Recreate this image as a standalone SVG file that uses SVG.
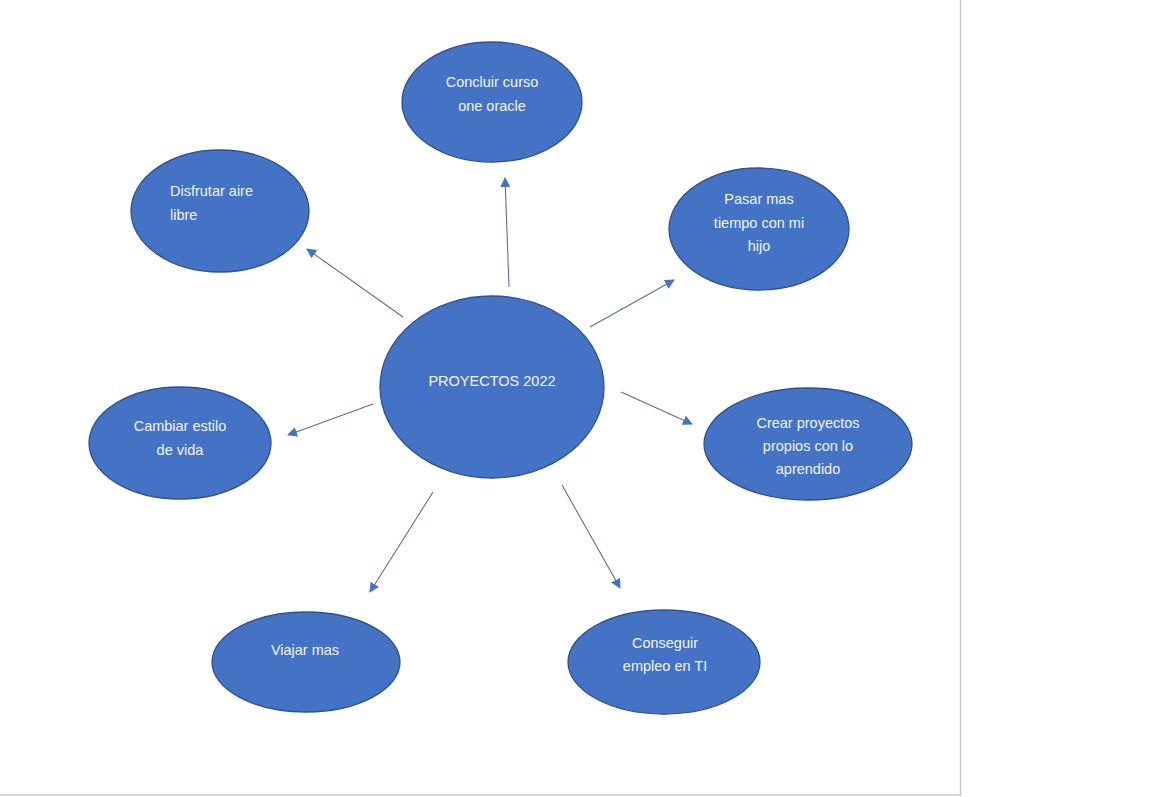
<svg xmlns="http://www.w3.org/2000/svg" width="1152" height="797" viewBox="0 0 1152 797">
<style>
.n{fill:#4472C4;stroke:#2F528F;stroke-width:1.3}
.t{font-family:"Liberation Sans",Arial,sans-serif;font-size:14.5px;fill:#F2F6FC;text-anchor:middle}
.c{stroke:#5B6F96;stroke-width:1.1;fill:none;marker-end:url(#ah)}
</style>
<defs>
<marker id="ah" viewBox="0 0 10 10" refX="9" refY="5" markerWidth="10" markerHeight="10" markerUnits="userSpaceOnUse" orient="auto">
<path d="M0,0 L10,5 L0,10 z" fill="#4472C4"/>
</marker>
</defs>
<rect width="1152" height="797" fill="#fff"/>
<line x1="960.5" y1="0" x2="960.5" y2="795" stroke="#C8C8C8" stroke-width="1.5"/>
<line x1="0" y1="795" x2="961" y2="795" stroke="#C8C8C8" stroke-width="1.5"/>
<g id="connectors">
<line class="c" x1="509" y1="287" x2="505" y2="178"/>
<line class="c" x1="403" y1="317" x2="307" y2="249"/>
<line class="c" x1="590" y1="327" x2="674" y2="280"/>
<line class="c" x1="373" y1="404" x2="288" y2="435"/>
<line class="c" x1="621" y1="392" x2="692" y2="424"/>
<line class="c" x1="433" y1="492" x2="370" y2="592"/>
<line class="c" x1="562" y1="485" x2="620" y2="588"/>
</g>
<g id="center">
<ellipse class="n" cx="492" cy="387" rx="112" ry="91"/>
<text class="t" x="492" y="386">PROYECTOS 2022</text>
</g>
<g id="concluir">
<ellipse class="n" cx="492" cy="102" rx="90" ry="60"/>
<text class="t" x="492" y="87">Concluir curso</text>
<text class="t" x="492" y="111">one oracle</text>
</g>
<g id="disfrutar">
<ellipse class="n" cx="220" cy="211" rx="89" ry="61"/>
<text class="t" x="170" y="196" style="text-anchor:start">Disfrutar aire</text>
<text class="t" x="170" y="220" style="text-anchor:start">libre</text>
</g>
<g id="pasar">
<ellipse class="n" cx="759" cy="229" rx="90" ry="61"/>
<text class="t" x="759" y="204">Pasar mas</text>
<text class="t" x="759" y="228">tiempo con mi</text>
<text class="t" x="759" y="251">hijo</text>
</g>
<g id="cambiar">
<ellipse class="n" cx="180" cy="443" rx="91" ry="56"/>
<text class="t" x="180" y="431">Cambiar estilo</text>
<text class="t" x="180" y="455">de vida</text>
</g>
<g id="crear">
<ellipse class="n" cx="808" cy="444" rx="104" ry="56"/>
<text class="t" x="808" y="428">Crear proyectos</text>
<text class="t" x="808" y="451">propios con lo</text>
<text class="t" x="808" y="474">aprendido</text>
</g>
<g id="viajar">
<ellipse class="n" cx="306" cy="662" rx="94" ry="50"/>
<text class="t" x="305" y="655">Viajar mas</text>
</g>
<g id="conseguir">
<ellipse class="n" cx="664" cy="662" rx="96" ry="52"/>
<text class="t" x="665" y="648">Conseguir</text>
<text class="t" x="665" y="671">empleo en TI</text>
</g>
</svg>
